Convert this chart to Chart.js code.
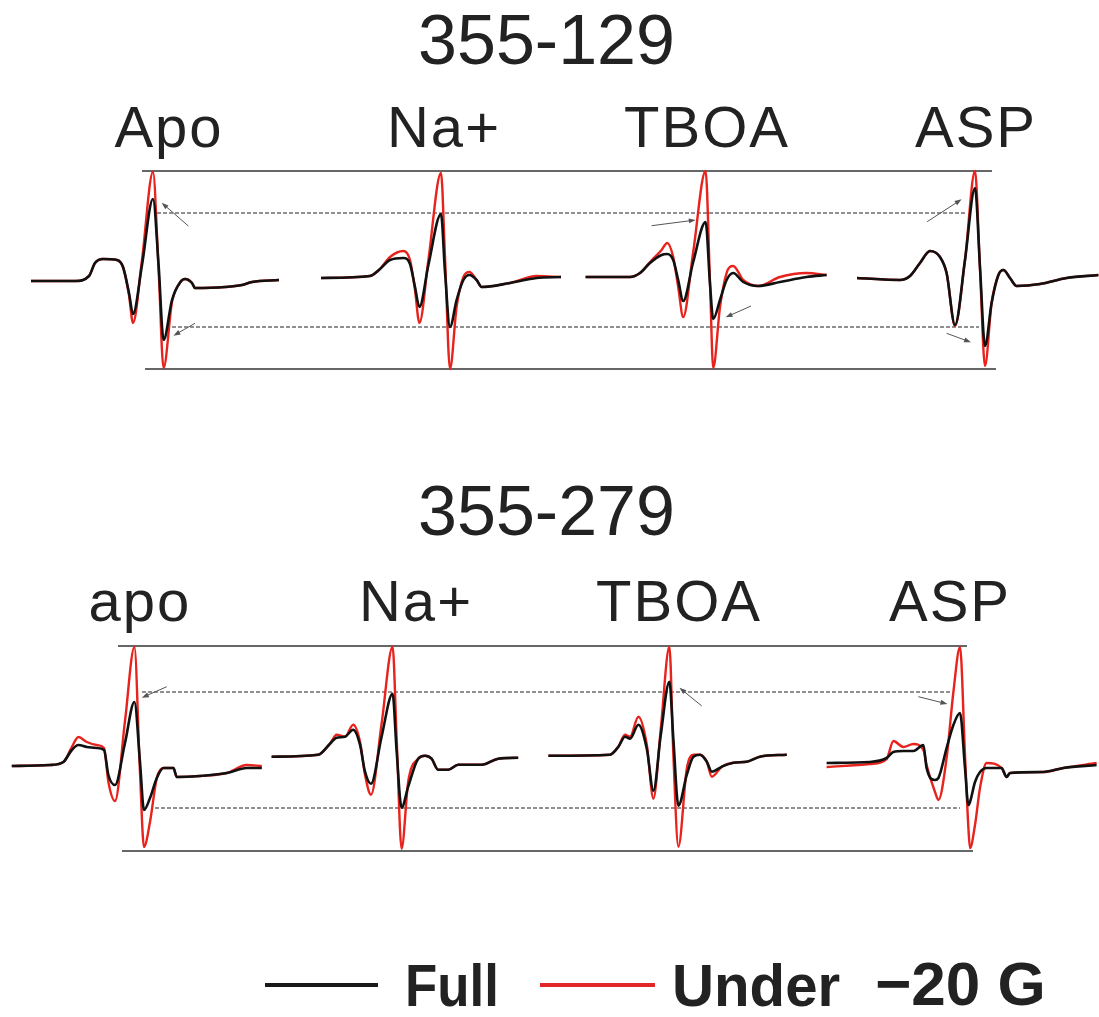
<!DOCTYPE html>
<html>
<head>
<meta charset="utf-8">
<script src="https://cdn.jsdelivr.net/npm/chart.js@4.4.1/dist/chart.umd.min.js"></script>
<style>
  body { margin: 0; width: 1099px; height: 1017px; position: relative; background: #fff; overflow: hidden; font-family: "Liberation Sans", Arial, sans-serif; color: #222; }
  .title { position: absolute; left: 0; width: 1093px; text-align: center; font-size: 70px; line-height: 70px; }
  .label { position: absolute; width: 300px; text-align: center; font-size: 58px; line-height: 58px; letter-spacing: 2px; }
  canvas { position: absolute; left: 0; }
  .legend-line { position: absolute; height: 4px; top: 983px; }
  .legend-text { position: absolute; top: 956px; font-weight: bold; font-size: 60px; line-height: 60px; color: #222; transform-origin: left top; }
</style>
</head>
<body>
<div class="title" style="top:5px">355-129</div>
<div class="title" style="top:476px">355-279</div>
<div id="labels"></div>
<canvas id="rowTop" width="1099" height="220" style="top:160px;width:1099px;height:220px"></canvas>
<canvas id="rowBottom" width="1099" height="225" style="top:635px;width:1099px;height:225px"></canvas>

<div class="legend-line" style="left:265px;width:113px;background:#1a1a1a"></div>
<div class="legend-text" style="left:405px;transform:scaleX(0.88)">Full</div>
<div class="legend-line" style="left:540px;width:115px;background:#e3262a"></div>
<div class="legend-text" style="left:672px;transform:scaleX(0.97)">Under</div>
<div class="legend-text" style="left:875px;font-size:62px;top:954px">&minus;20 G</div>

<script>
// Panel names for each row

const namesTop = ["Apo", "Na+", "TBOA", "ASP"];
const namesBottom = ["apo", "Na+", "TBOA", "ASP"];

// Spectra: field offset from the central line (G) and amplitude (a.u.)
// "full" = Full spectrum, "under" = Under -20 G

const fieldTop1 = [-61, -39, -32, -29, -25, -18, -15, -12, -10, -5.5, 0, 2.8, 5.3, 9.5, 13.7, 16, 19.5, 21, 36, 44.5, 49.5, 63];
const fullTop1 = [-1, -1, 4, 17, 21, 20, 13, -13, -34, 15, 81, 15, -60, -20, -2, 1, -3, -8, -7, -5, -2, 0];
const underTop1 = [-1, -1, 4, 17, 21, 20, 13, -15, -43, 20, 108, 10, -88, -22, -2, 1, -3, -8, -7, -5, -2, 0];

const fieldTop2 = [-60, -35.5, -30.5, -25.5, -18.8, -15.5, -13, -10.8, -6.3, 0, 2, 4.5, 7.8, 11.2, 14.2, 17.8, 20.3, 34.5, 47.8, 60];
const fullTop2 = [-1, 1, 8, 17, 19, 13, -10, -30, 12, 63, 5, -50, -23, -3, 2, -3, -10, -6, -1, 0];
const underTop2 = [-1, 1, 8, 20, 26, 17, -13, -46, 17, 104, 20, -92, -30, 0, 5, -3, -10, -6, 1, 0];

const fieldTop3 = [-60, -37.8, -32.8, -27.8, -22, -19.2, -16.2, -13.7, -11.2, -6.2, 0, 2.2, 3.8, 7.2, 10.5, 13.8, 18.8, 26.3, 37.2, 50.5, 60.5];
const fullTop3 = [-1, -1, 3, 13, 21, 22, 16, -4, -25, 14, 54, -8, -43, -24, -4, 3, -6, -10, -6, -1, 1];
const underTop3 = [-1, -1, 3, 14, 26, 33, 19, -11, -41, 24, 105, -6, -92, -31, 3, 10, -4, -10, -1, 3, 1];

const fieldTop4 = [-59, -37.5, -32.5, -27.5, -22.5, -17.5, -14.2, -10, -5, 0, 2.5, 5, 8.3, 11.7, 14.2, 17.5, 20.8, 32.5, 45.8, 61.7];
const fullTop4 = [1, -1, 3, 16, 28, 22, 6, -46, 19, 91, 12, -67, -24, 4, 9, 1, -7, -5, 1, 4];
const underTop4 = [1, -1, 3, 16, 28, 22, 6, -47, 19, 108, 10, -87, -24, 4, 9, 1, -7, -5, 1, 4];

const fieldBottom1 = [-61.3, -42.2, -35.5, -31.3, -28, -23.8, -18.8, -15.2, -13, -9.7, -4.7, 0, 2.8, 4.8, 7.8, 11.2, 14.5, 19.5, 21.2, 32.8, 46.2, 56.2, 63.7];
const fullBottom1 = [-1, 0, 3, 15, 20, 18, 17, 15, -10, -20, 22, 63, 3, -45, -33, -13, -3, -3, -12, -11, -8, -3, -3];
const underBottom1 = [-1, 0, 3, 18, 28, 23, 20, 17, -17, -36, 44, 118, -8, -82, -57, -13, -3, -3, -12, -11, -8, 0, -1];

const fieldBottom2 = [-60.5, -37.2, -31.3, -28, -23.8, -19.7, -16.3, -13.8, -10.8, -5.5, 0, 2, 4.5, 7.8, 12.8, 16.2, 19.5, 22.8, 27.8, 32.8, 44.5, 52.8, 62.8];
const fullBottom2 = [0, 2, 13, 19, 20, 27, 12, -15, -27, 20, 63, 6, -51, -30, -2, 1, -2, -13, -13, -8, -8, -2, -1];
const underBottom2 = [0, 2, 13, 22, 20, 32, 15, -18, -38, 33, 110, 20, -92, -25, -2, 1, -2, -13, -13, -8, -8, -2, -1];

const fieldBottom3 = [-60.5, -29.7, -25.5, -22.2, -19.7, -15.5, -11.3, -8, -4.3, 0, 2, 4.5, 8.7, 12, 15.3, 18.7, 21.2, 26.2, 32, 38.7, 45.3, 58.7];
const fullBottom3 = [0, 1, 9, 19, 17, 31, 7, -35, 21, 74, 16, -50, -19, -1, 1, -6, -16, -11, -7, -6, -1, 1];
const underBottom3 = [0, 1, 9, 21, 19, 39, 11, -43, 27, 109, 0, -91, -13, 1, 1, -6, -21, -11, -7, -6, -1, 1];

const fieldBottom4 = [-66.7, -45, -36.7, -33.3, -28.3, -23.3, -18.3, -16.7, -12.5, -10.8, -6.7, -3.3, 0, 2.5, 4.2, 5, 7.5, 10, 13.3, 20.8, 23.3, 25, 41.7, 51.7, 68.3];
const fullBottom4 = [2, 3, 7, 13, 14, 14, 20, -3, -15, -13, 17, 40, 52, -3, -40, -37, -17, -7, -3, -3, -12, -8, -7, -3, 0];
const underBottom4 = [-2, 1, 6, 24, 18, 21, 15, 0, -27, -35, 7, 73, 118, 10, -63, -83, -60, -23, 2, -3, -12, -8, -7, -3, 2];

// Reference levels (a.u.) : solid top, dashed upper, dashed lower, solid bottom

const refLevelsTop = [107, 65, -49, -91];
const refLevelsBottom = [114, 68, -48, -91];

// Layout: where each spectrum sits along the row (G) and its baseline shift

const centersTop = [76.5, 220.5, 352.8, 487.5];
const shiftTop = [-2, 1, 2, -1];
const centersBottom = [67.2, 196.3, 334.7, 480];
const shiftBottom = [-5, 3.3, 4.3, -5];
const labelXTop = [168, 443, 706, 975];
const labelXBottom = [139, 415, 678, 949];

const refStartTop = [71, 78.5, 86, 72.5];
const refEndTop = [496, 483.5, 489.5, 498];
const refStartBottom = [59, 71, 77.5, 61];
const refEndBottom = [483.5, 476, 480, 486.5];

// Arrows: [panel, from field, from amp, to field, to amp]

const arrowsTop = [
  [0, 17.7, 52, 4.3, 75.3],
  [0, 21, -45.3, 10.2, -57.7],
  [2, -27, 52.3, -4.9, 58],
  [2, 22.7, -28, 10, -39.3],
  [3, -23.9, 56.3, -6.7, 78.7],
  [3, -14.2, -55.3, -2, -64.3],
];
const arrowsBottom = [
  [0, 16.2, 73.3, 3.7, 62.3],
  [2, 16.2, 54, 5, 72.3],
  [3, -20.8, 63.3, -6.3, 56],
];

// Panel labels as html text

function addLabels(names, xs, top) {
  let holder = document.getElementById("labels");
  names.forEach((name, i) => {
    let div = document.createElement("div");
    div.className = "label";
    div.textContent = name;
    div.style.left = (xs[i] - 150 + 1) + "px";
    div.style.top = top + "px";
    holder.appendChild(div);
  });
}

// Plugin that draws the small pointer arrows

function makeArrowPlugin(arrows, centers) {
  return {
    id: "arrows",
    afterDatasetsDraw(chart) {
      let ctx = chart.ctx;
      let xs = chart.scales.x;
      let ys = chart.scales.y;
      ctx.save();
      ctx.strokeStyle = "#555";
      ctx.fillStyle = "#555";
      ctx.lineWidth = 1;
      arrows.forEach(a => {
        let x1 = xs.getPixelForValue(centers[a[0]] + a[1]);
        let y1 = ys.getPixelForValue(a[2]);
        let x2 = xs.getPixelForValue(centers[a[0]] + a[3]);
        let y2 = ys.getPixelForValue(a[4]);
        let ang = Math.atan2(y2 - y1, x2 - x1);
        ctx.beginPath();
        ctx.moveTo(x1, y1);
        ctx.lineTo(x2 - 5 * Math.cos(ang), y2 - 5 * Math.sin(ang));
        ctx.stroke();
        ctx.beginPath();
        ctx.moveTo(x2, y2);
        ctx.lineTo(x2 - 7 * Math.cos(ang) + 2.5 * Math.sin(ang), y2 - 7 * Math.sin(ang) - 2.5 * Math.cos(ang));
        ctx.lineTo(x2 - 7 * Math.cos(ang) - 2.5 * Math.sin(ang), y2 - 7 * Math.sin(ang) + 2.5 * Math.cos(ang));
        ctx.closePath();
        ctx.fill();
      });
      ctx.restore();
    },
  };
}

// Build one row of spectra as a single Chart.js scatter chart

function createRow(id, fields, fulls, unders, centers, shifts, levels, starts, ends, arrows, yMin, yMax) {
  let datasets = [];

  levels.forEach((level, i) => {
    let dashed = i === 1 || i === 2;
    datasets.push({
      data: [{ x: starts[i], y: level }, { x: ends[i], y: level }],
      borderColor: dashed ? "#222" : "#333",
      borderWidth: dashed ? 1 : 1.3,
      borderDash: dashed ? [4, 2] : [],
      order: 2,
    });
  });

  fields.forEach((field, p) => {
    datasets.push({
      data: field.map((f, k) => ({ x: centers[p] + f, y: shifts[p] + unders[p][k] })),
      borderColor: "#e8221c",
      borderWidth: 2.4,
      cubicInterpolationMode: "monotone",
      order: 1,
    });
    datasets.push({
      data: field.map((f, k) => ({ x: centers[p] + f, y: shifts[p] + fulls[p][k] })),
      borderColor: "#111",
      borderWidth: 2.6,
      cubicInterpolationMode: "monotone",
      order: 0,
    });
  });

  datasets.forEach(d => {
    d.showLine = true;
    d.pointRadius = 0;
    d.fill = false;
  });

  new Chart(id, {
    type: "scatter",
    data: { datasets: datasets },
    options: {
      responsive: false,
      animation: false,
      events: [],
      layout: { padding: 0 },
      plugins: { legend: { display: false }, tooltip: { enabled: false } },
      scales: {
        x: { type: "linear", min: 0, max: 549.5, display: false },
        y: { type: "linear", min: yMin, max: yMax, display: false },
      },
    },
    plugins: [makeArrowPlugin(arrows, centers)],
  });
}

addLabels(namesTop, labelXTop, 98);
addLabels(namesBottom, labelXBottom, 572);

createRow("rowTop",
  [fieldTop1, fieldTop2, fieldTop3, fieldTop4],
  [fullTop1, fullTop2, fullTop3, fullTop4],
  [underTop1, underTop2, underTop3, underTop4],
  centersTop, shiftTop, refLevelsTop, refStartTop, refEndTop, arrowsTop, -102, 118);

createRow("rowBottom",
  [fieldBottom1, fieldBottom2, fieldBottom3, fieldBottom4],
  [fullBottom1, fullBottom2, fullBottom3, fullBottom4],
  [underBottom1, underBottom2, underBottom3, underBottom4],
  centersBottom, shiftBottom, refLevelsBottom, refStartBottom, refEndBottom, arrowsBottom, -100, 125);
</script>
</body>
</html>
